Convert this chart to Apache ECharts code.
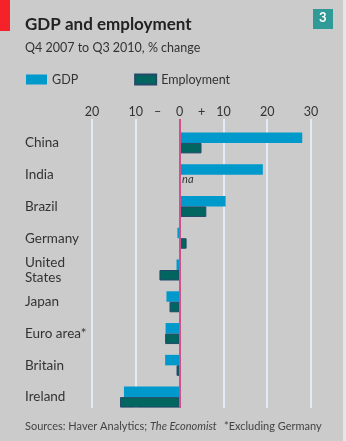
<!DOCTYPE html>
<html><head><meta charset="utf-8">
<script src="https://cdn.jsdelivr.net/npm/echarts@6/dist/echarts.min.js"></script>
<style>html,body{margin:0;padding:0;background:#cbcbcb;}#c{width:346px;height:441px;}</style>
</head><body><div id="c"></div>
<script>
var categories = ['China','India','Brazil','Germany','United\nStates','Japan','Euro area*','Britain','Ireland'];
var gdp = [28, 19, 10.5, -0.5, -0.7, -3.0, -3.2, -3.3, -12.7];
var employment = [5, null, 6.1, 1.6, -4.6, -2.3, -3.3, -0.7, -13.6];
var tickValues = [-20,-15,-10,-5,0,5,10,15,20,25,30];
var tickLabels = ['20','','10','–','0','+','10','','20','','30'];

var FONT = 'Lato, "Open Sans", sans-serif';
var chart = echarts.init(document.getElementById('c'), null, {renderer:'canvas'});

var tickLabelMap = {};
tickValues.forEach(function(v, i){ tickLabelMap[String(v)] = tickLabels[i]; });

var empData = employment.map(function(v){
  if (v === null) return {value:0, label:{show:true, position:'right', distance:2, formatter:'na', fontStyle:'italic', fontSize:11, color:'#333', fontFamily:FONT}};
  return v;
});

chart.setOption({
  backgroundColor:'#cbcbcb',
  animation:false,
  textStyle:{fontFamily:FONT},
  grid:[
    {left:92, right:35, top:127, bottom:28},
    {left:92, right:35, top:119, bottom:33}
  ],
  legend:{
    left:26, top:73, padding:0, itemWidth:21, itemHeight:10, itemGap:56,
    icon:'rect',
    textStyle:{fontSize:12.5, color:'#333', fontFamily:FONT},
    data:['GDP','Employment']
  },
  xAxis:[{
    gridIndex:0, type:'value', min:-20, max:30, interval:10,
    axisLine:{show:false}, axisTick:{show:false}, splitLine:{show:false}, axisLabel:{show:false}
  },{
    gridIndex:1, type:'value', position:'top', min:-20, max:30, interval:5,
    axisLine:{show:false}, axisTick:{show:false},
    axisLabel:{margin:1, fontSize:12.5, color:'#333', fontFamily:FONT,
      formatter:function(v){ return tickLabelMap[String(v)] || ''; }},
    splitLine:{show:true, lineStyle:{width:2,
      color:['#e2ecf8','transparent','#e2ecf8','transparent','transparent','transparent','#e2ecf8','transparent','#e2ecf8','transparent','#e2ecf8']}}
  }],
  yAxis:[{
    gridIndex:0, type:'category', inverse:true, data:categories,
    axisLine:{show:false, onZero:false}, axisTick:{show:false},
    axisLabel:{align:'left', margin:67, fontSize:13.5, color:'#333', lineHeight:15, fontFamily:FONT}
  },{
    gridIndex:1, type:'value', min:0, max:1, show:false
  }],
  series:[{
    name:'GDP', type:'bar', data:gdp, barWidth:10.5, barGap:'0%', xAxisIndex:0, yAxisIndex:0,
    itemStyle:{color:'#0099cc'}, z:3
  },{
    name:'Employment', type:'bar', data:empData, barWidth:10.5, xAxisIndex:0, yAxisIndex:0,
    itemStyle:{color:'#00665f', borderColor:'#244a6a', borderWidth:1}, z:3
  },{
    name:'zero', type:'line', data:[], xAxisIndex:1, yAxisIndex:1, z:5,
    markLine:{silent:true, symbol:'none', label:{show:false},
      lineStyle:{color:'#d24f8c', width:2, type:'solid'}, data:[{xAxis:0}]}
  }],
  graphic:[
    {type:'rect', left:0, top:0, shape:{width:10, height:31}, style:{fill:'#f5222a'}},
    {type:'rect', left:343, top:0, shape:{width:3, height:441}, style:{fill:'#e6e6e6'}},
    {type:'rect', left:313, top:9, shape:{width:20, height:20}, style:{fill:'#2f9a98'}},
    {type:'text', left:319, top:11, style:{text:'3', fill:'#fff', font:'bold 13px ' + FONT}},
    {type:'text', left:25, top:16, style:{text:'GDP and employment', fill:'#222', font:'bold 17px ' + FONT}},
    {type:'text', left:25, top:41, style:{text:'Q4 2007 to Q3 2010, % change', fill:'#333', font:'12.5px ' + FONT}},
    {type:'text', left:25, top:421, style:{
      text:'{a|Sources: Haver Analytics; }{b|The Economist}',
      rich:{a:{fontSize:11, fill:'#444', fontFamily:FONT}, b:{fontSize:11, fill:'#444', fontStyle:'italic', fontFamily:FONT}}}},
    {type:'text', left:224, top:421, style:{text:'*Excluding Germany', fill:'#444', font:'11px ' + FONT}}
  ]
});
</script></body></html>
